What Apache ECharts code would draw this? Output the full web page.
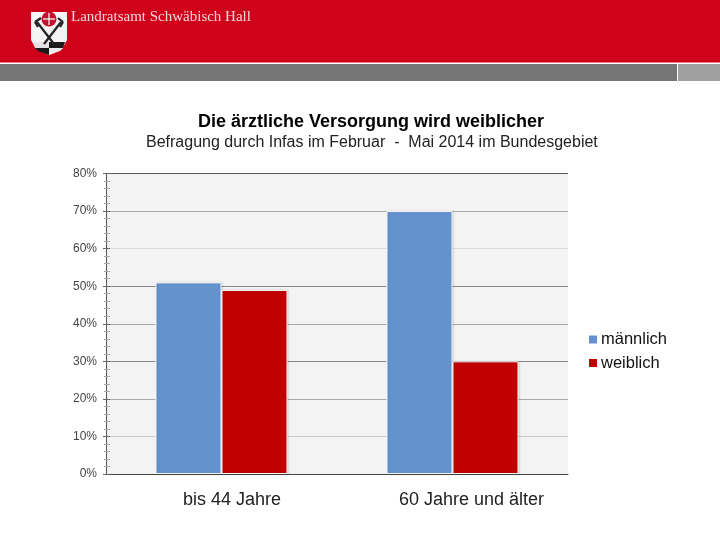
<!DOCTYPE html>
<html><head><meta charset="utf-8">
<style>html,body{margin:0;padding:0;background:#fff}#c{width:720px;height:540px}</style>
<script src="https://cdn.jsdelivr.net/npm/echarts@6/dist/echarts.min.js"></script>
</head><body><div id="c"></div>
<script>
const categories = ['bis 44 Jahre', '60 Jahre und älter'];
const maennlich = [51, 70];
const weiblich = [49, 30];
const seriesNames = ['männlich', 'weiblich'];
const titleText = 'Die ärztliche Versorgung wird weiblicher';
const subtitleText = 'Befragung durch Infas im Februar  -  Mai 2014 im Bundesgebiet';
const bannerText = 'Landratsamt Schwäbisch Hall';
const gridColors = ['#444444','#c8c8c8','#aaaaaa','#888888','#a8a8a8','#888888','#dcdcdc','#aaaaaa','#555555'];

const chart = echarts.init(document.getElementById('c'), null, {renderer:'canvas'});
const font = '"Liberation Sans", Arial, sans-serif';
const pct = v => v + '%';
const barStyle = c => ({color:c, borderColor:'#f7f8fa', borderWidth:1, shadowColor:'rgba(0,0,0,0.14)', shadowBlur:2, shadowOffsetX:1, shadowOffsetY:0});
const xLabelStyle = {fontSize:18,color:'#222',fontFamily:font};
const logoLine = (x1,y1,x2,y2,w) => ({type:'line',shape:{x1,y1,x2,y2},style:{stroke:'#222',lineWidth:w},silent:true});
chart.setOption({
  animation:false,
  backgroundColor:'#fff',
  textStyle:{fontFamily:font},
  grid:{left:106,top:173.5,width:462,height:300.5,backgroundColor:'#f3f3f3',show:true,borderWidth:0},
  legend:{
    orient:'vertical',left:584,top:326,itemWidth:8,itemHeight:8,itemGap:6.5,icon:'rect',
    data:seriesNames,
    itemStyle:{borderWidth:0,shadowBlur:0,shadowOffsetX:0},
    textStyle:{fontSize:16.5,color:'#111',fontFamily:font,padding:[0,0,0,-1]}
  },
  xAxis:{
    type:'category',data:categories,
    axisLine:{show:true,lineStyle:{color:'#444',width:1}},
    axisTick:{show:false},
    axisLabel:{
      margin:17,
      formatter:(v,i)=>(i===0?'{a|':'{b|')+v+'}',
      rich:{
        a:Object.assign({padding:[0,0,0,21]},xLabelStyle),
        b:Object.assign({padding:[0,0,0,38]},xLabelStyle)
      }
    }
  },
  yAxis:[{
    type:'value',min:0,max:80,interval:10,
    axisLine:{show:true,lineStyle:{color:'#555',width:1}},
    axisTick:{show:true,length:3,lineStyle:{color:'#666'}},
    minorTick:{show:true,splitNumber:5,length:2,lineStyle:{color:'#aaa'}},
    axisLabel:{formatter:pct,fontSize:12,color:'#444',margin:9,padding:[4,0,0,0],fontFamily:font},
    splitLine:{show:true,lineStyle:{color:gridColors,width:1}}
  },{
    type:'value',min:0,max:80,interval:10,position:'left',
    axisLine:{show:false},
    axisTick:{show:true,inside:true,length:4,lineStyle:{color:'#666'}},
    minorTick:{show:true,splitNumber:5,length:4,lineStyle:{color:'#aaa'}},
    axisLabel:{show:false},splitLine:{show:false}
  }],
  series:[
    {name:seriesNames[0],type:'bar',data:maennlich,barWidth:66,barGap:0,itemStyle:barStyle('#6492cf'),z:3},
    {name:seriesNames[1],type:'bar',data:weiblich,barWidth:66,barGap:0,itemStyle:barStyle('#c00000'),z:3}
  ],
  graphic:[
    {type:'rect',shape:{x:0,y:0,width:720,height:62.5},style:{fill:'#d0021b'},silent:true},
    {type:'rect',shape:{x:0,y:64,width:677,height:17},style:{fill:'#757575'},silent:true},
    {type:'rect',shape:{x:678,y:64,width:42,height:17},style:{fill:'#a0a0a0'},silent:true},
    {type:'polygon',shape:{points:[[31,12],[67,12],[67,40],[62,49],[49,55],[36,49],[31,40]]},style:{fill:'#f4f4f4'},silent:true},
    {type:'polygon',shape:{points:[[33,42],[49,42],[49,48],[35,48]]},style:{fill:'#e4e4e4'},silent:true},
    {type:'polygon',shape:{points:[[49,42],[65,42],[63,48],[49,48]]},style:{fill:'#1a1a1a'},silent:true},
    {type:'polygon',shape:{points:[[35,48],[49,48],[49,55],[38,51]]},style:{fill:'#1a1a1a'},silent:true},
    {type:'polygon',shape:{points:[[49,48],[63,48],[60,51],[49,55]]},style:{fill:'#ededed'},silent:true},
    {type:'circle',shape:{cx:49,cy:19,r:7.5},style:{fill:'#c8102e'},silent:true},
    {type:'line',shape:{x1:49,y1:13,x2:49,y2:25},style:{stroke:'#fff',lineWidth:1.2},silent:true},
    {type:'line',shape:{x1:43,y1:19,x2:55,y2:19},style:{stroke:'#fff',lineWidth:1.2},silent:true},
    logoLine(37,22,54,44,2.2),
    logoLine(61,22,44,44,2.2),
    logoLine(35,22,41,18,2.2),
    logoLine(35,22,38,27,2.2),
    logoLine(63,22,58,18,2.2),
    logoLine(63,22,60,27,2.2),
    {type:'text',left:71,top:10,style:{text:bannerText,fill:'#f6d5d8',font:'15px "Liberation Serif", serif'},silent:true},
    {type:'text',left:198,top:113,style:{text:titleText,fill:'#000',font:'bold 18px '+font},silent:true},
    {type:'text',left:146,top:135,style:{text:subtitleText,fill:'#222',font:'16px '+font},silent:true}
  ]
});
</script></body></html>
